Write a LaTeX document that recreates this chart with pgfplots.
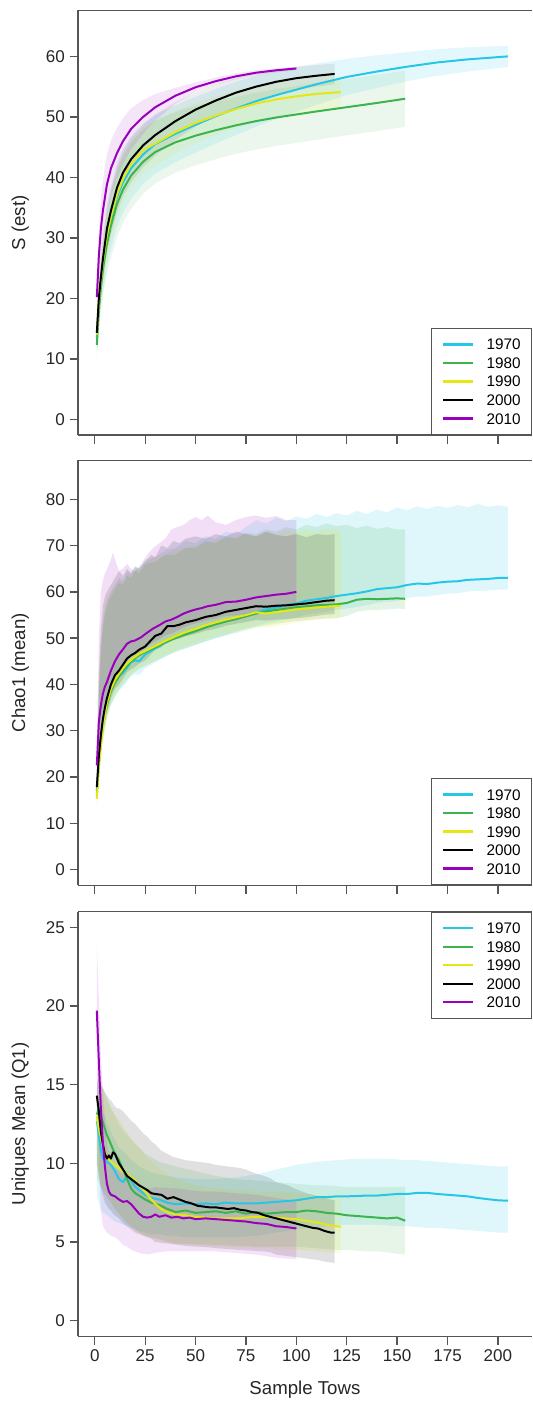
\documentclass[border=0pt]{standalone}
\usepackage{pgfplots}
\pgfplotsset{compat=1.18}
\usepackage{pgfplotstable}
\usepackage{fontspec}
\setmainfont{Liberation Sans}
\definecolor{cA}{RGB}{38,198,230}
\definecolor{cB}{RGB}{60,180,75}
\definecolor{cC}{RGB}{230,230,20}
\definecolor{cD}{RGB}{0,0,0}
\definecolor{cE}{RGB}{153,0,187}
\definecolor{axg}{RGB}{85,85,85}

% ---------- Panel 1: S (est): x y d ----------
\pgfplotstableread{
x y d
1 13.5 2.5
2 19 3.5
3 22.5 4
4 25.3 4.3
6 29.8 4.6
8 33 4.8
11 36.8 5
14 39.2 5
18 41.5 5
24 43.8 4.9
30 45.5 4.8
40 47.2 4.7
50 48.7 4.6
60 50.1 4.5
70 51.4 4.4
80 52.6 4.2
90 53.6 4.0
100 54.5 3.7
110 55.4 3.4
125 56.6 3.0
140 57.5 2.7
155 58.3 2.4
170 59 2.2
185 59.5 2.0
205 60 1.75
}\tAa
\pgfplotstableread{
x y d
1 12.3 2.5
2 18 3.5
3 21.8 4
4 24.8 4.5
6 29 5
8 32 5.3
11 35.6 5.5
14 38 5.5
18 40.3 5.5
24 42.6 5.3
30 44.2 5.2
40 45.8 5
50 46.9 4.9
60 47.8 4.8
70 48.6 4.7
80 49.3 4.7
90 49.9 4.7
100 50.4 4.7
110 50.9 4.7
125 51.6 4.65
140 52.3 4.65
154 53 4.65
}\tAb
\pgfplotstableread{
x y d
1 14 2
2 19.5 3
3 23 3.3
4 26 3.5
6 30.5 3.8
8 33.5 4
11 37.2 4
14 39.8 4
18 42.2 3.9
24 44.5 3.8
30 45.6 3.7
40 47.5 3.5
50 49 3.3
60 50.2 3.2
70 51.3 3.1
80 52.2 3
90 52.9 2.9
100 53.4 2.8
110 53.8 2.75
122 54.1 2.7
}\tAc
\pgfplotstableread{
x y d
1 14.3 2
2 20 3
3 23.5 3.5
4 26.5 3.8
6 31.5 4
8 34.5 4
11 38.3 4
14 40.8 3.9
18 43 3.8
24 45.3 3.6
30 47 3.4
40 49.3 3.1
50 51.2 2.8
60 52.7 2.6
70 54 2.4
80 55 2.2
90 55.8 2
100 56.4 1.9
110 56.8 1.8
119 57.1 1.7
}\tAd
\pgfplotstableread{
x y d
1 20.2 2
2 27 4
3 31.5 5
4 34.5 5
6 38.8 5
8 41.5 4.6
11 44 4.2
14 46 3.8
18 48 3.4
24 50 2.8
30 51.6 2.2
40 53.5 1.3
50 54.9 0.8
60 55.9 0.6
70 56.7 0.5
80 57.3 0.4
90 57.7 0.35
100 58 0.3
}\tAe

% ---------- Panel 2: Chao1 (mean): x y d hi ----------
\pgfplotstableread{
x y d hi
1 16 2 20
2 23 3 38
3 28 3 48
4 31.5 3 53
5 34 3 56
6 36 3 58
8 38.8 3 60
10 40.5 3 61.5
12 41.8 3 63
14 42.5 3 62.5
16 43.6 3 64.5
18 44.8 3 64
20 45.2 3 65.5
22 45.0 3 65
25 46.5 3 67
30 47.8 3 67.5
35 49 3 69
40 50.1 3 69.5
45 50.8 3 71
50 51.6 3 70.5
55 52.3 3 72
60 53 3 71.5
65 53.6 3 73
70 54.4 3 72.5
75 55.1 3 74
80 55.6 3 75.5
85 56.2 3 74.8
90 56.6 3 76
95 57.1 3 75.3
100 57.5 3 76.3
105 58.1 3 75.8
110 58.4 3 76.8
115 58.7 3 76.2
120 59.1 3 77
125 59.4 3 76.5
130 59.7 3 77.5
135 60.1 3 76.8
140 60.6 3 77.8
145 60.8 3 77.2
150 61 3 78.2
155 61.5 2.8 77.6
160 61.8 2.8 78.5
165 61.7 2.7 77.9
170 62 2.7 78.6
175 62.2 2.6 78.1
180 62.3 2.6 78.8
185 62.6 2.5 78.3
190 62.7 2.5 79
195 62.8 2.5 78.4
200 63 2.5 78.7
205 63 2.5 78.4
}\tBa
\pgfplotstableread{
x y d hi
1 17 2 20
2 23 3 37
3 27.5 3 47
4 31 3 52
5 33.5 3 55
6 35.5 3 57
8 38.5 3 59
10 40.3 3 60.5
12 41.7 3 62
14 43 3 61.5
16 44 3 63.5
18 45 3 63
20 45.7 3 64.5
22 46.3 3 64
25 47 3 66
30 48 3 66.5
35 49.1 3 68
40 50 3 68
45 50.8 3 69.5
50 51.5 3 69.5
55 52.3 3 71
60 53 3 70.5
65 53.6 3 72
70 54.1 3 71.5
75 54.7 3 72.8
80 55.3 3 72.5
85 55.8 3 73.5
90 56.1 3 73
95 56.4 3 74
100 56.7 3 73.5
105 56.9 3 74.5
110 57.1 3 74
115 57.2 3 74.8
120 57.3 3 74.2
125 57.6 2.8 74.5
130 58.3 2.6 73.8
135 58.5 2.5 74.3
140 58.4 2.3 73.6
145 58.5 2.3 74
150 58.6 2.2 73.5
154 58.5 2.2 73.5
}\tBb
\pgfplotstableread{
x y d hi
1 15.3 2 18
2 22 3 39
3 26.8 3 49
4 30.5 3 54
5 33.5 3 57
6 36 3 58.5
8 39 3 60
10 41 3 61.5
12 42.3 3 62.5
14 43.5 3 62
16 44.5 3 64
18 45.3 3 63.5
20 46 3 65
22 46.6 3 64.5
25 47.2 3 66.5
30 48.3 3 67.5
35 49.4 3 68
40 50.4 3 69
45 51.3 3 69.5
50 52 3 70
55 52.8 3 70.5
60 53.4 3 71
65 54 3 71.5
70 54.5 3 71.8
75 55 3 72.5
80 55.6 3 72
85 55.3 3 72.8
90 55.6 3 72.4
95 55.9 3 73.2
100 56.2 2.8 72.8
105 56.4 2.7 73.4
110 56.6 2.6 73
115 56.8 2.5 73.5
122 57 2.5 73.3
}\tBc
\pgfplotstableread{
x y d hi
1 17.8 2 20
2 24.5 3 42
3 29 3 52
4 32.5 3 57
5 35 3 59
6 37 3 60
8 40 3 61.5
10 42 3 63
12 43 3 64.5
14 44.3 3 63.5
16 45.6 3 65
18 46.3 3 64
20 46.8 3 65.5
22 47.5 3 65
25 48.2 3 66.5
28 49.6 3 68
30 50.5 3 67.5
33 51 3 70
36 52.6 3 69.5
39 52.6 3 71
42 52.9 3 70.5
45 53.4 3 71.5
50 53.9 3 72
55 54.6 3 71.5
60 55 3 72.5
65 55.7 3 72
70 56.1 3 73
75 56.5 3 72.5
80 56.9 3 72
85 56.8 3 73
90 57 3 72.3
95 57.1 3 72
100 57.3 3 72.5
105 57.5 3 71.8
110 57.8 3 72.5
115 58.1 3 72.3
119 58.2 3 72.5
}\tBd
\pgfplotstableread{
x y d hi
1 22.5 2 26
2 31.9 3 50
3 35.5 3 60
4 38 3 62.5
5 39.5 3 64
6 40.5 3 64.8
8 43 3 67
9 44 3 68.5
10 45 3 67
12 46.5 3 64.5
14 47.6 3 65
16 48.8 3 66
18 49.3 3 65
20 49.5 3 64.5
23 50.2 3 66
26 51.2 3 68
29 52.1 3 69.5
32 52.8 3 70.5
35 53.6 3 71.5
38 54 3 73.5
41 54.6 3 74
44 55.3 3 74.5
47 55.8 3 75.5
50 56.2 3 76.2
53 56.5 3 75.5
56 56.9 3 76.5
60 57.2 3 75
65 57.8 3 74.5
70 57.9 3 75.5
75 58.3 3 76.2
80 58.8 3 76.5
85 59.1 3 76
90 59.4 3 76.4
95 59.6 3 75.5
100 60 3 75.5
}\tBe

% ---------- Panel 3: Uniques mean (Q1): x y lo hi ----------
\pgfplotstableread{
x y lo hi
1 12.7 8 13.5
2 11.8 7.5 14
3 10.8 7 13.5
4 10.3 6.9 13.2
5 10.2 6.8 13
6 10.1 6.7 12.6
8 9.9 6.5 12
10 9.5 6.3 11.5
12 9.0 6.2 11
14 8.8 6.1 10.8
16 9.2 6 10.5
18 8.9 5.9 10.2
20 8.5 5.8 10
22 8.3 5.7 9.8
25 8.0 5.6 9.6
28 7.8 5.5 9.4
32 7.7 5.5 9.3
36 7.5 5.4 9.2
40 7.4 5.4 9.1
45 7.45 5.3 9.05
50 7.4 5.3 9.0
55 7.45 5.3 9.0
60 7.4 5.3 9.0
65 7.5 5.3 9.05
70 7.45 5.3 9.1
75 7.45 5.35 9.2
80 7.45 5.4 9.3
85 7.5 5.5 9.45
90 7.55 5.6 9.6
95 7.6 5.7 9.75
100 7.65 5.8 9.9
105 7.75 5.85 10.0
110 7.85 5.9 10.1
115 7.85 6 10.15
120 7.9 6.05 10.2
125 7.9 6.1 10.25
130 7.92 6.1 10.3
135 7.95 6.1 10.3
140 7.95 6.1 10.3
145 8.0 6.05 10.3
150 8.05 6.0 10.25
155 8.05 6.0 10.2
160 8.12 5.95 10.2
165 8.12 5.9 10.15
170 8.05 5.9 10.1
175 8.0 5.85 10.05
180 7.95 5.8 10.0
185 7.9 5.75 9.95
190 7.8 5.7 9.9
195 7.72 5.65 9.85
200 7.65 5.6 9.8
205 7.62 5.6 9.8
}\tCa
\pgfplotstableread{
x y lo hi
1 13.1 9 15
2 13.5 8.8 16
3 13.0 8.5 15.3
4 12.6 8.2 14.8
5 12.2 8 14.5
6 11.8 7.8 14.2
8 11.2 7.5 13.5
10 10.6 7.1 13
12 10.2 6.8 12.5
14 9.6 6.5 12.1
16 9.0 6.2 11.8
18 8.4 6.0 11.5
20 8.1 5.8 11.2
22 7.95 5.6 11
25 7.7 5.4 10.6
28 7.5 5.3 10.4
32 7.35 5.15 10.1
36 7.1 5.0 9.95
40 6.9 4.9 9.8
45 7.0 4.9 9.65
50 6.85 4.85 9.5
55 6.9 4.85 9.35
60 6.95 4.8 9.2
65 6.85 4.8 9.1
70 6.95 4.75 9.0
75 6.8 4.75 8.95
80 6.9 4.7 8.9
85 6.8 4.7 8.85
90 6.85 4.7 8.8
95 6.9 4.7 8.75
100 6.9 4.7 8.7
105 7.0 4.65 8.65
110 6.95 4.6 8.6
115 6.85 4.55 8.6
120 6.8 4.5 8.55
125 6.7 4.5 8.5
130 6.65 4.45 8.5
135 6.6 4.4 8.5
140 6.55 4.4 8.5
145 6.5 4.35 8.5
150 6.55 4.25 8.5
154 6.35 4.2 8.5
}\tCb
\pgfplotstableread{
x y lo hi
1 13.0 10 14
2 12.2 9.2 15
4 11.1 8.4 14.5
6 10.4 8 14
8 10.1 7.5 13.5
10 9.9 7.1 13.1
12 9.7 6.8 12.8
14 9.5 6.5 12.4
16 9.3 6.2 12
18 9.1 6 11.6
20 8.9 5.8 11.3
22 8.6 5.6 11
25 8.2 5.4 10.5
28 7.7 5.3 10.1
31 7.3 5.2 9.8
34 7.0 5.1 9.5
37 6.85 5.0 9.2
40 6.75 4.9 9.0
45 6.7 4.85 8.8
50 6.6 4.8 8.6
55 6.55 4.75 8.5
60 6.5 4.7 8.4
65 6.5 4.7 8.35
70 6.5 4.65 8.3
75 6.55 4.65 8.25
80 6.6 4.6 8.2
85 6.6 4.6 8.2
90 6.55 4.55 8.2
95 6.5 4.5 8.15
100 6.45 4.5 8.1
105 6.35 4.45 8.05
110 6.25 4.4 8.0
115 6.1 4.35 8.0
122 5.96 4.3 8.0
}\tCc
\pgfplotstableread{
x y lo hi
1 14.3 10 15
2 13.3 9.2 15.5
3 12.0 8.5 15
4 11.2 8 14.8
5 10.6 7.5 14.5
6 10.3 7.3 14.3
7 10.5 7.1 14.1
8 10.3 7 14
9 10.7 6.8 13.8
10 10.6 6.7 13.6
11 10.3 6.6 13.5
12 10.0 6.5 13.5
14 9.6 6.2 13.3
16 9.2 6 13
18 9.0 5.8 12.7
20 8.8 5.6 12.5
22 8.6 5.5 12.2
24 8.45 5.4 11.9
26 8.3 5.3 11.7
28 8.1 5.2 11.4
30 8.05 5.0 11.2
33 8.0 4.95 10.8
36 7.75 4.9 10.6
39 7.85 4.85 10.4
42 7.7 4.8 10.3
45 7.55 4.75 10.2
48 7.45 4.72 10.15
51 7.3 4.7 10.1
54 7.25 4.68 10.05
57 7.2 4.65 10.0
60 7.2 4.6 9.9
63 7.15 4.58 9.85
66 7.1 4.55 9.8
69 7.15 4.52 9.75
72 7.05 4.5 9.7
75 7.0 4.48 9.6
78 6.9 4.45 9.45
81 6.85 4.42 9.3
84 6.7 4.4 9.2
87 6.6 4.35 9.05
90 6.5 4.2 8.8
93 6.4 4.15 8.7
96 6.3 4.1 8.6
99 6.2 4.05 8.4
102 6.1 4.0 8.25
105 6.0 3.95 8.1
108 5.9 3.9 8.0
111 5.85 3.85 7.9
114 5.7 3.75 7.8
117 5.6 3.7 7.7
119 5.6 3.65 7.65
}\tCd
\pgfplotstableread{
x y lo hi
1 19.7 15.5 23.8
2 16.5 10 20.5
3 13.5 7 17
4 11.3 6 14.5
5 9.8 5.8 12.8
6 8.7 5.6 11.2
7 8.2 5.5 10.5
8 8.0 5.4 10
10 7.9 5.3 9.7
12 7.7 5.1 9.5
14 7.55 4.8 9.3
16 7.6 4.7 9.2
18 7.4 4.5 9.0
20 7.1 4.4 8.8
22 6.8 4.3 8.6
24 6.6 4.25 8.45
26 6.55 4.2 8.4
28 6.6 4.25 8.4
30 6.75 4.3 8.5
32 6.6 4.35 8.45
35 6.7 4.4 8.45
38 6.55 4.4 8.4
41 6.6 4.4 8.4
44 6.5 4.4 8.35
47 6.55 4.4 8.3
50 6.45 4.4 8.25
55 6.5 4.4 8.2
60 6.45 4.4 8.2
65 6.4 4.35 8.15
70 6.35 4.3 8.1
75 6.3 4.25 8.05
80 6.2 4.2 8.0
85 6.15 4.1 7.9
90 6.0 4.0 7.8
95 5.95 3.95 7.7
100 5.86 3.9 7.6
}\tCe

% polygon table for a band: upper edge forward, lower edge backward
% #1 source table, #2 result table, #3 upper expr, #4 lower expr
\newcommand{\mkpoly}[4]{%
  \pgfplotstablecreatecol[create col/expr={-\thisrow{x}}]{nx}{#1}%
  \pgfplotstablesort[sort key=x]{#2}{#1}%
  \pgfplotstablesort[sort key=nx]{\tmprev}{#1}%
  \pgfplotstablecreatecol[create col/expr={#3}]{by}{#2}%
  \pgfplotstablecreatecol[create col/expr={#4}]{by}{\tmprev}%
  \pgfplotstablevertcat{#2}{\tmprev}%
}
\mkpoly{\tAa}{\pAa}{\thisrow{y}+\thisrow{d}}{\thisrow{y}-\thisrow{d}}
\mkpoly{\tAb}{\pAb}{\thisrow{y}+\thisrow{d}}{\thisrow{y}-\thisrow{d}}
\mkpoly{\tAc}{\pAc}{\thisrow{y}+\thisrow{d}}{\thisrow{y}-\thisrow{d}}
\mkpoly{\tAd}{\pAd}{\thisrow{y}+\thisrow{d}}{\thisrow{y}-\thisrow{d}}
\mkpoly{\tAe}{\pAe}{\thisrow{y}+\thisrow{d}}{\thisrow{y}-\thisrow{d}}
\mkpoly{\tBa}{\pBa}{\thisrow{hi}}{\thisrow{y}-\thisrow{d}}
\mkpoly{\tBb}{\pBb}{\thisrow{hi}}{\thisrow{y}-\thisrow{d}}
\mkpoly{\tBc}{\pBc}{\thisrow{hi}}{\thisrow{y}-\thisrow{d}}
\mkpoly{\tBd}{\pBd}{\thisrow{hi}}{\thisrow{y}-\thisrow{d}}
\mkpoly{\tBe}{\pBe}{\thisrow{hi}}{\thisrow{y}-\thisrow{d}}
\mkpoly{\tCa}{\pCa}{\thisrow{hi}}{\thisrow{lo}}
\mkpoly{\tCb}{\pCb}{\thisrow{hi}}{\thisrow{lo}}
\mkpoly{\tCc}{\pCc}{\thisrow{hi}}{\thisrow{lo}}
\mkpoly{\tCd}{\pCd}{\thisrow{hi}}{\thisrow{lo}}
\mkpoly{\tCe}{\pCe}{\thisrow{hi}}{\thisrow{lo}}

\newcommand{\band}[3]{%
  \addplot[fill=#2, fill opacity=#3, draw=none, forget plot] table[x=x, y=by] {#1};
}
\newcommand{\curve}[3]{%
  \addplot[#2, line width=1.5pt, line join=round, mark=none] table[x=x, y=y] {#1};
  \addlegendentry{#3}
}

\pgfplotsset{
  panel/.style={
    scale only axis, width=340.7pt, height=319pt,
    xmin=-8.3, xmax=216.8,
    axis x line*=bottom, axis y line*=left,
    axis line style={axg, line width=1pt, -},
    every outer x axis line/.append style={-},
    every outer y axis line/.append style={-},
    tick style={axg, line width=1pt},
    tick align=outside, major tick length=6.4pt,
    xtick pos=bottom, ytick pos=left,
    xtick={0,25,...,200},
    tick label style={font=\fontsize{12.8}{15}\selectfont, text=black!85},
    /pgf/number format/assume math mode=true,
    label style={font=\fontsize{14}{16}\selectfont, text=black!85},
    ylabel style={at={(axis description cs:-0.1273,0.5)}, anchor=center},
    legend cell align=left,
    legend image code/.code={\draw[##1, line width=1.6pt] (0pt,0pt) -- (22.4pt,0pt);},
    legend style={draw=axg, line width=0.75pt, fill=white,
      font=\fontsize{11.5}{13}\selectfont,
      inner xsep=8pt, inner ysep=8pt, row sep=5.6pt, column sep=9.5pt,
      nodes={inner sep=0pt, text height=8.3pt, text depth=0pt}},
  }
}
\newcommand{\topline}{\draw[axg, line width=1pt] (rel axis cs:0,1) -- (rel axis cs:1,1);}

\begin{document}
\begin{tikzpicture}
\path (0pt,0pt) rectangle (399.75pt,-1052.25pt);

% ---------------- Panel 1 ----------------
\begin{axis}[panel, at={(58.65pt,-326.8pt)}, anchor=south west,
  ymin=-2.6, ymax=67.6, ytick={0,10,...,60}, xticklabels={},
  ylabel={S (est)},
  legend style={at={(rel axis cs:1,0)}, anchor=south east}]
\band{\pAa}{cA}{0.13}
\band{\pAb}{cB}{0.10}
\band{\pAc}{cC}{0.10}
\band{\pAd}{cD}{0.07}
\band{\pAe}{cE}{0.10}
\curve{\tAa}{cA}{1970}
\curve{\tAb}{cB}{1980}
\curve{\tAc}{cC}{1990}
\curve{\tAd}{cD}{2000}
\curve{\tAe}{cE}{2010}
\topline
\end{axis}

% ---------------- Panel 2 ----------------
\begin{axis}[panel, at={(58.65pt,-664.8pt)}, anchor=south west,
  ymin=-3.4, ymax=88.4, ytick={0,10,...,80}, xticklabels={},
  ylabel={Chao1 (mean)},
  legend style={at={(rel axis cs:1,0)}, anchor=south east}]
\band{\pBa}{cA}{0.15}
\band{\pBb}{cB}{0.14}
\band{\pBc}{cC}{0.15}
\band{\pBd}{cD}{0.13}
\band{\pBe}{cE}{0.13}
\curve{\tBa}{cA}{1970}
\curve{\tBb}{cB}{1980}
\curve{\tBc}{cC}{1990}
\curve{\tBd}{cD}{2000}
\curve{\tBe}{cE}{2010}
\topline
\end{axis}

% ---------------- Panel 3 ----------------
\begin{axis}[panel, at={(58.65pt,-1003.6pt)}, anchor=south west,
  ymin=-1, ymax=26, ytick={0,5,...,25},
  ylabel={Uniques Mean (Q1)}, xlabel={Sample Tows},
  xlabel style={at={(axis description cs:0.5,-0.126)}, anchor=center},
  legend style={at={(rel axis cs:1,1)}, anchor=north east}]
\band{\pCa}{cA}{0.15}
\band{\pCb}{cB}{0.13}
\band{\pCc}{cC}{0.13}
\band{\pCd}{cD}{0.12}
\band{\pCe}{cE}{0.11}
\curve{\tCa}{cA}{1970}
\curve{\tCb}{cB}{1980}
\curve{\tCc}{cC}{1990}
\curve{\tCd}{cD}{2000}
\curve{\tCe}{cE}{2010}
\topline
\end{axis}
\end{tikzpicture}
\end{document}
